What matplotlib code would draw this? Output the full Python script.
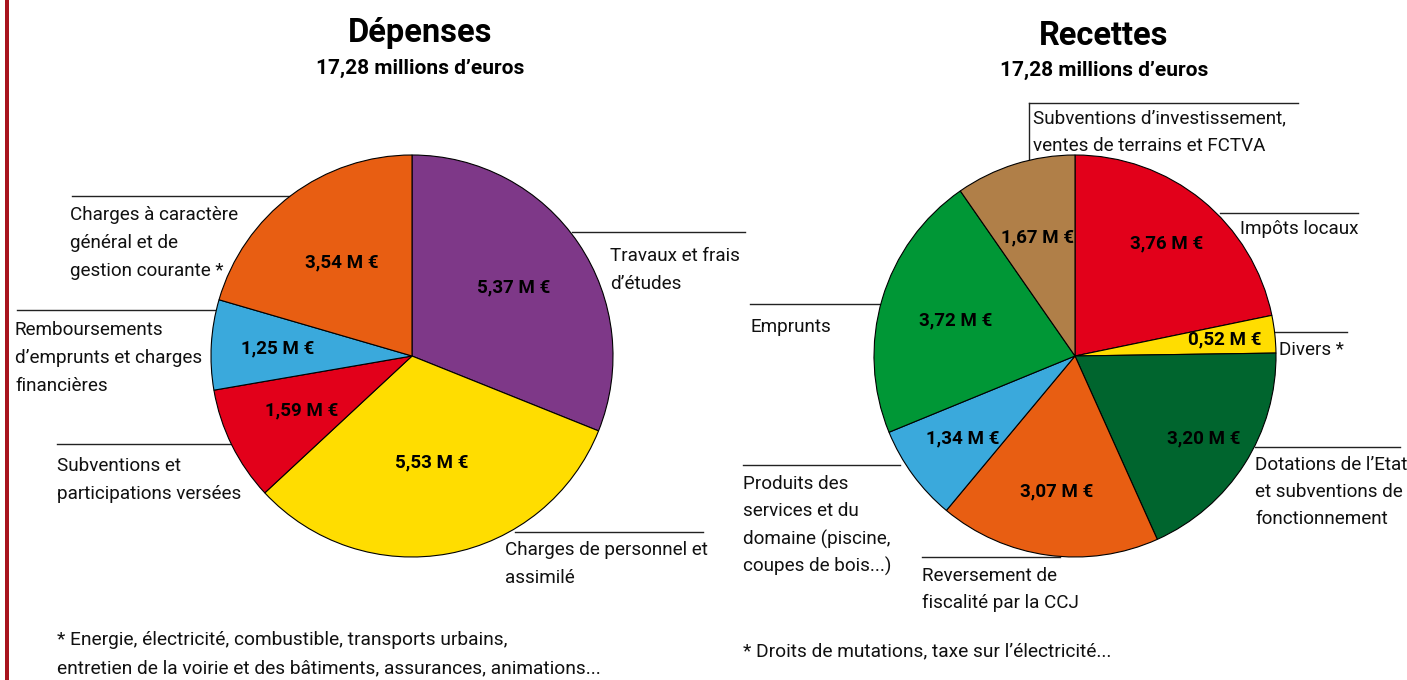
import matplotlib
matplotlib.use('Agg')
import matplotlib.pyplot as plt
from matplotlib.patches import Rectangle
import numpy as np

plt.rcParams['font.family'] = ['Roboto', 'DejaVu Sans']

# ---------------- data ----------------
dep_title = "Dépenses"
rec_title = "Recettes"
subtitle = "17,28 millions d\u2019euros"

dep_labels = ["Travaux et frais\nd\u2019études",
              "Charges de personnel et\nassimilé",
              "Subventions et\nparticipations versées",
              "Remboursements\nd\u2019emprunts et charges\nfinancières",
              "Charges à caractère\ngénéral et de\ngestion courante *"]
dep_values = [5.37, 5.53, 1.59, 1.25, 3.54]
dep_colors = ["#7E3888", "#FFDD00", "#E2001A", "#3AA9DC", "#E85E12"]

rec_labels = ["Impôts locaux",
              "Divers *",
              "Dotations de l\u2019Etat\net subventions de\nfonctionnement",
              "Reversement de\nfiscalité par la CCJ",
              "Produits des\nservices et du\ndomaine (piscine,\ncoupes de bois...)",
              "Emprunts",
              "Subventions d\u2019investissement,\nventes de terrains et FCTVA"]
rec_values = [3.76, 0.52, 3.20, 3.07, 1.34, 3.72, 1.67]
rec_colors = ["#E2001A", "#FFDD00", "#00652E", "#E85E12", "#3AA9DC", "#009736", "#B07F48"]

dep_note = "* Energie, électricité, combustible, transports urbains,\nentretien de la voirie et des bâtiments, assurances, animations..."
rec_note = "* Droits de mutations, taxe sur l\u2019électricité..."

# ---------------- layout ----------------
W, H = 1407, 680
fig = plt.figure(figsize=(W / 100, H / 100), dpi=100)
ov = fig.add_axes([0, 0, 1, 1])
ov.set_xlim(0, W)
ov.set_ylim(H, 0)
ov.axis('off')

ov.add_patch(Rectangle((5, 0), 4, H, color="#A8141E", lw=0))


def pie_axes(cx, cy, r):
    rr = r * 1.01
    return fig.add_axes([(cx - rr) / W, (H - cy - rr) / H, 2 * rr / W, 2 * rr / H])


def fmt(v):
    return f"{v:.2f}".replace('.', ',') + " M \u20ac"


def draw_pie(ax, values, colors, dist):
    wedges, _ = ax.pie(values, colors=colors, startangle=90, counterclock=False,
                       wedgeprops=dict(edgecolor='black', linewidth=0.8), radius=1)
    for w, v, d in zip(wedges, values, dist):
        ang = np.deg2rad((w.theta1 + w.theta2) / 2)
        ax.text(d * np.cos(ang), d * np.sin(ang), fmt(v), ha='center', va='center',
                fontsize=13.5, fontweight='bold', color='black')
    ax.set_xlim(-1.01, 1.01)
    ax.set_ylim(-1.01, 1.01)
    ax.set_aspect('equal')
    ax.axis('off')


axL = pie_axes(412, 356, 201)
draw_pie(axL, dep_values, dep_colors, [0.61, 0.54, 0.61, 0.67, 0.58])
axR = pie_axes(1075, 356, 201)
draw_pie(axR, rec_values, rec_colors, [0.72, 0.75, 0.76, 0.68, 0.69, 0.62, 0.62])

# titles
ov.text(420, 33, dep_title, ha='center', va='center', fontsize=23.5, fontweight='bold')
ov.text(420, 68, subtitle, ha='center', va='center', fontsize=15, fontweight='bold')
ov.text(1104, 36, rec_title, ha='center', va='center', fontsize=23.5, fontweight='bold')
ov.text(1104, 70, subtitle, ha='center', va='center', fontsize=15, fontweight='bold')


def label(text, x, y0, step=28, size=13.6):
    for i, line in enumerate(text.split("\n")):
        ov.text(x, y0 + i * step, line, ha='left', va='center', fontsize=size, color='#111111')


def hline(x0, x1, y):
    ov.plot([x0, x1], [y, y], color='#222222', lw=1)


# left leaders & labels
hline(572, 745, 232); label(dep_labels[0], 610, 256)
hline(515, 703, 532); label(dep_labels[1], 505, 550)
hline(57, 265, 444); label(dep_labels[2], 57, 466)
hline(17, 215, 310); label(dep_labels[3], 15, 330)
hline(72, 290, 196); label(dep_labels[4], 70, 215)

# right leaders & labels
hline(1220, 1358, 213); label(rec_labels[0], 1240, 229)
hline(1275, 1347, 332); label(rec_labels[1], 1279, 350)
hline(1255, 1400, 447); label(rec_labels[2], 1255, 465, step=27)
hline(922, 1060, 557); label(rec_labels[3], 922, 576, step=27)
hline(743, 900, 465); label(rec_labels[4], 743, 484, step=27.5)
hline(750, 883, 304); label(rec_labels[5], 750, 327)
hline(1029, 1298, 103)
ov.plot([1029, 1029], [103, 160], color='#222222', lw=1)
label(rec_labels[6], 1033, 118)

# footnotes
label(dep_note, 57, 640, step=28, size=13.8)
label(rec_note, 743, 651, size=13.8)

fig.savefig("out.png", dpi=100)
